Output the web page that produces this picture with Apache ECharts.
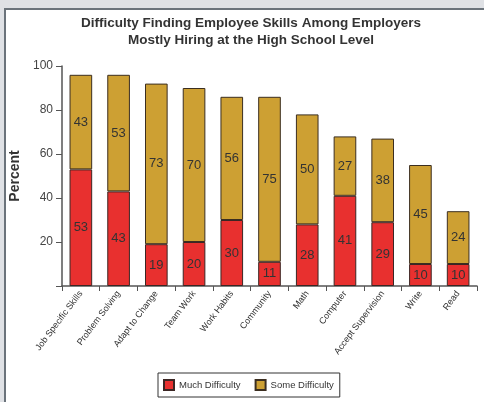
<!DOCTYPE html>
<html><head><meta charset="utf-8">
<script src="https://cdn.jsdelivr.net/npm/echarts@6/dist/echarts.min.js"></script>
<style>html,body{margin:0;padding:0;background:#dfe1e5;}#c{width:484px;height:402px;}</style>
</head><body><div id="c"></div>
<script>
const categories = ['Job Specific Skills','Problem Solving','Adapt to Change','Team Work','Work Habits','Community','Math','Computer','Accept Supervision','Write','Read'];
const muchDifficulty = [53,43,19,20,30,11,28,41,29,10,10];
const someDifficulty = [43,53,73,70,56,75,50,27,38,45,24];
const yTicks = [0,20,40,60,80,100];

const chart = echarts.init(document.getElementById('c'));
const lbl = {show:true, position:'inside', color:'#333', fontSize:13, fontFamily:'Liberation Sans, Arial, sans-serif'};
chart.setOption({
  animation:false,
  backgroundColor:'#dfe1e5',
  graphic:[
    {type:'rect', z:-10, shape:{x:5, y:9, width:490, height:400}, style:{fill:'#ffffff', stroke:'#6b737b', lineWidth:2}}
  ],
  title:{
    text:'Difficulty Finding Employee Skills Among Employers\nMostly Hiring at the High School Level',
    left:246, textAlign:'center', top:10,
    textStyle:{fontSize:13.5, fontWeight:'bold', color:'#333', lineHeight:17, fontFamily:'Liberation Sans, Arial, sans-serif'}
  },
  legend:{
    orient:'horizontal',
    top:373, left:158,
    itemWidth:10, itemHeight:10, itemGap:14,
    padding:[6,6,6,5],
    borderColor:'#333', borderWidth:1,
    icon:'rect',
    textStyle:{fontSize:9.5, color:'#333', fontFamily:'Liberation Sans, Arial, sans-serif'},
    data:['Much Difficulty','Some Difficulty']
  },
  grid:{left:60, right:7, top:66, bottom:116},
  xAxis:{
    type:'category', data:categories,
    axisLine:{lineStyle:{color:'#555', width:1.5}},
    axisTick:{show:true, length:5, lineStyle:{color:'#555'}, alignWithLabel:false},
    axisLabel:{rotate:53, fontSize:9, color:'#333', margin:6, interval:0, fontFamily:'Liberation Sans, Arial, sans-serif'}
  },
  yAxis:{
    type:'value', min:0, max:100, interval:20,
    name:'Percent', nameLocation:'middle', nameGap:40,
    nameTextStyle:{fontSize:14, fontWeight:'bold', color:'#333', fontFamily:'Liberation Sans, Arial, sans-serif'},
    axisLine:{show:true, lineStyle:{color:'#555', width:1.5}},
    axisTick:{show:true, length:6, lineStyle:{color:'#555'}},
    splitLine:{show:false},
    axisLabel:{fontSize:12, color:'#444', margin:9, fontFamily:'Liberation Sans, Arial, sans-serif',
      formatter:v=> v===0 ? '' : String(v)}
  },
  series:[
    {name:'Much Difficulty', type:'bar', stack:'a', data:muchDifficulty, barWidth:'60%',
     itemStyle:{color:'#e8302f', borderColor:'#3b2624', borderWidth:1}, label:lbl},
    {name:'Some Difficulty', type:'bar', stack:'a', data:someDifficulty, barWidth:'60%',
     itemStyle:{color:'#cda033', borderColor:'#3b2e20', borderWidth:1}, label:lbl}
  ]
});
</script></body></html>
